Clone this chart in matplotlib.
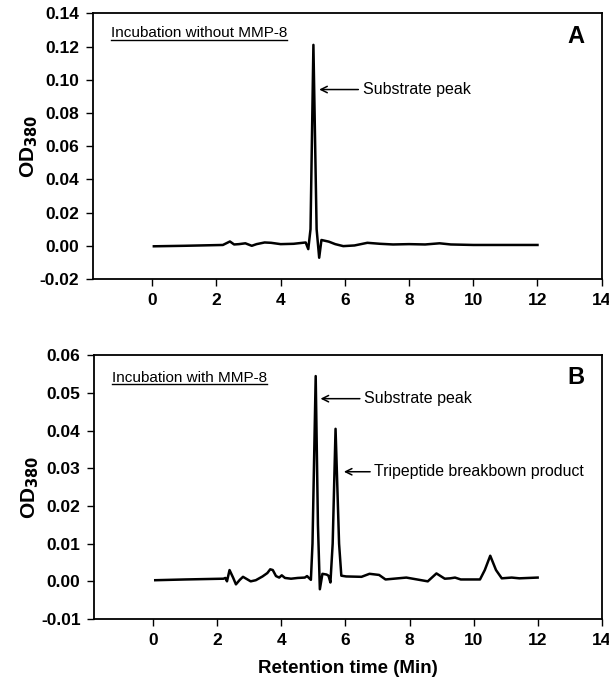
import matplotlib
matplotlib.use("Agg")
import matplotlib.pyplot as plt
from matplotlib.lines import Line2D

plt.rcParams['font.family'] = ['Liberation Sans', 'DejaVu Sans']

# ---- data ----
xa = [0.05, 1.0, 2.2, 2.42, 2.55, 2.7, 2.9, 3.1, 3.25, 3.5, 3.7, 4.0, 4.4, 4.78, 4.86,
      4.93, 5.02, 5.12, 5.2, 5.27, 5.5, 5.7, 5.95, 6.3, 6.7, 7.1, 7.5, 8.0, 8.5, 8.95,
      9.3, 10.0, 11.0, 12.0]
ya = [-0.0003, 0.0, 0.0005, 0.0026, 0.0008, 0.001, 0.0015, 0.0, 0.001, 0.002, 0.0018,
      0.001, 0.0012, 0.002, -0.002, 0.01, 0.121, 0.01, -0.0072, 0.0035, 0.0025, 0.001,
      -0.0002, 0.0002, 0.0018, 0.0012, 0.0008, 0.001, 0.0008, 0.0015, 0.0008, 0.0005,
      0.0005, 0.0005]

xb = [0.06, 1.0, 2.19, 2.25, 2.3, 2.38, 2.49, 2.58, 2.7, 2.8, 2.9, 3.04, 3.2, 3.41, 3.56,
      3.65, 3.73, 3.83, 3.93, 4.01, 4.11, 4.3, 4.51, 4.73, 4.8, 4.92, 4.97, 5.07, 5.14,
      5.2, 5.28, 5.41, 5.47, 5.53, 5.6, 5.69, 5.8, 5.87, 6.02, 6.5, 6.75, 7.05, 7.25,
      7.9, 8.57, 8.84, 9.1, 9.27, 9.42, 9.6, 10.2, 10.35, 10.52, 10.7, 10.88, 11.19,
      11.43, 12.0]
yb = [0.0003, 0.0005, 0.0007, 0.0009, 0.0, 0.003, 0.001, -0.0008, 0.0004, 0.0012, 0.0007,
      0.0, 0.0003, 0.0013, 0.0022, 0.0032, 0.003, 0.0014, 0.001, 0.0016, 0.0009, 0.0007,
      0.0009, 0.001, 0.0014, 0.0004, 0.01, 0.0545, 0.015, -0.0021, 0.002, 0.0018, 0.0015,
      -0.0003, 0.01, 0.0405, 0.01, 0.0015, 0.0013, 0.0012, 0.002, 0.0017, 0.0005, 0.001,
      0.0, 0.0021, 0.0007, 0.0008, 0.001, 0.0005, 0.0005, 0.003, 0.0068, 0.003, 0.0008,
      0.001, 0.0008, 0.001]

xticks = [0, 2, 4, 6, 8, 10, 12, 14]
yticks_a = [-0.02, 0.00, 0.02, 0.04, 0.06, 0.08, 0.10, 0.12, 0.14]
yticks_b = [-0.01, 0.00, 0.01, 0.02, 0.03, 0.04, 0.05, 0.06]

fig = plt.figure(figsize=(6.09, 6.83), dpi=100)
axA = fig.add_axes([0.153, 0.5915, 0.835, 0.389])
axB = fig.add_axes([0.155, 0.0937, 0.833, 0.386])

def style(ax, yt, ylim):
    ax.set_xlim(-1.84, 14)
    ax.set_ylim(*ylim)
    ax.set_xticks(xticks)
    ax.set_yticks(yt)
    ax.set_xticklabels([str(t) for t in xticks])
    ax.set_yticklabels([f"{t:.2f}" for t in yt])
    ax.tick_params(direction='out', length=5, width=1, labelsize=12.5, pad=5)
    for lab in ax.get_xticklabels() + ax.get_yticklabels():
        lab.set_fontweight('bold')
    for s in ax.spines.values():
        s.set_linewidth(1.3)
    ax.set_ylabel('OD$_{\\mathbf{380}}$', fontsize=15, fontweight='bold')
    ax.yaxis.set_label_coords(-0.105, 0.5)

axA.plot(xa, ya, color='black', lw=1.8)
style(axA, yticks_a, (-0.02, 0.14))
axB.plot(xb, yb, color='black', lw=1.8)
style(axB, yticks_b, (-0.01, 0.06))
axB.set_xlabel('Retention time (Min)', fontsize=13.5, fontweight='bold', labelpad=9)

tA = axA.text(-1.3, 0.1255, 'Incubation without MMP-8', fontsize=11, va='baseline', ha='left')
tB = axB.text(-1.3, 0.0529, 'Incubation with MMP-8', fontsize=11, va='baseline', ha='left')
axA.text(13.2, 0.1263, 'A', fontsize=17, fontweight='bold', ha='center', va='center')
axB.text(13.2, 0.0542, 'B', fontsize=17, fontweight='bold', ha='center', va='center')

arr = dict(arrowstyle='->', lw=1.1, color='black', shrinkA=1, shrinkB=0)
axA.annotate('Substrate peak', xy=(5.2, 0.0941), xytext=(6.55, 0.0941),
             fontsize=11.5, va='center', ha='left', arrowprops=arr)
axB.annotate('Substrate peak', xy=(5.22, 0.0485), xytext=(6.58, 0.0485),
             fontsize=11.5, va='center', ha='left', arrowprops=arr)
axB.annotate('Tripeptide breakbown product', xy=(5.95, 0.0291), xytext=(6.9, 0.0291),
             fontsize=11.4, va='center', ha='left', arrowprops=arr)

fig.canvas.draw()
r = fig.canvas.get_renderer()
inv = fig.transFigure.inverted()
for t in (tA, tB):
    bb = t.get_window_extent(renderer=r)
    (x0, y0), (x1, _) = inv.transform([(bb.x0, bb.y0), (bb.x1, bb.y1)])
    fig.add_artist(Line2D([x0, x1], [y0 + 0.001, y0 + 0.001], transform=fig.transFigure,
                          color='black', lw=1.0))

fig.savefig('out.png', dpi=100)
